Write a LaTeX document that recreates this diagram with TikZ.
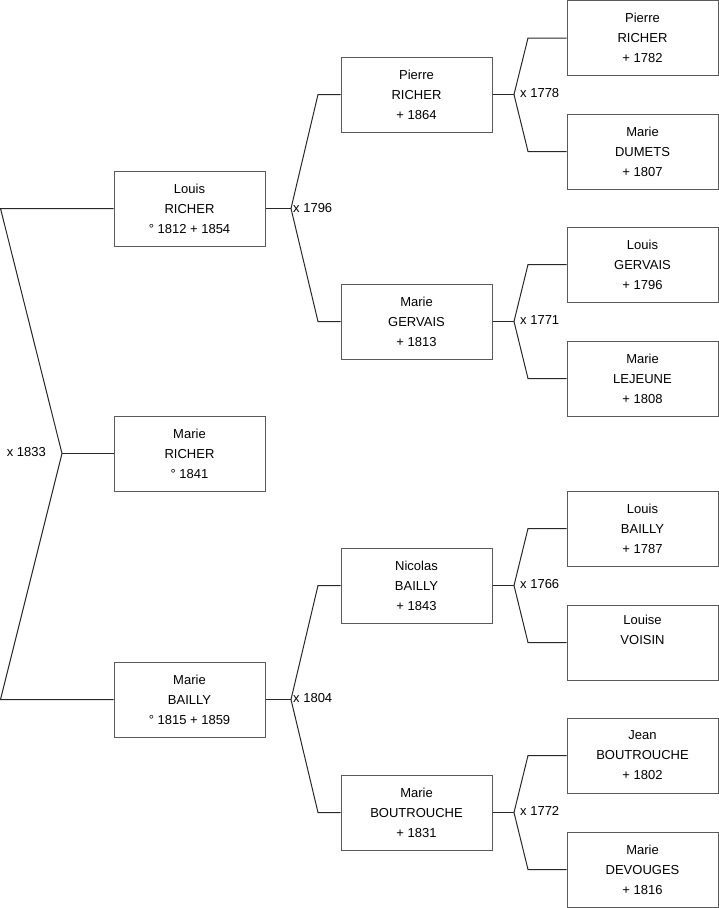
\documentclass[tikz,border=0pt]{standalone}
\usepackage{fontspec}
\setmainfont{Liberation Sans}
\definecolor{boxgray}{RGB}{90,90,90}
\definecolor{linecol}{RGB}{40,40,40}
\begin{document}
\begin{tikzpicture}[x=1pt,y=-1pt,
  person/.style={draw=boxgray,line width=1pt,fill=white,minimum width=151pt,minimum height=75pt,inner sep=0pt,align=center,font=\fontsize{13}{20}\selectfont},
  link/.style={draw=linecol,line width=1pt},
  marr/.style={inner sep=0pt,font=\fontsize{13}{16}\selectfont}]
\useasboundingbox (0,0) rectangle (719,908);
% generation 1
\node[person] (louis) at (189.5,208.5) {Louis\\RICHER\\° 1812 + 1854};
\node[person] (marie) at (189.5,453.5) {Marie\\RICHER\\° 1841};
\node[person] (mbailly) at (189.5,699.5) {Marie\\BAILLY\\° 1815 + 1859};
% generation 2
\node[person] (pierre) at (416.5,94.5) {Pierre\\RICHER\\+ 1864};
\node[person] (gervais) at (416.5,321.5) {Marie\\GERVAIS\\+ 1813};
\node[person] (nicolas) at (416.5,585.5) {Nicolas\\BAILLY\\+ 1843};
\node[person] (boutr) at (416.5,812.5) {Marie\\BOUTROUCHE\\+ 1831};
% generation 3
\node[person] (p3a) at (642.5,38) {Pierre\\RICHER\\+ 1782};
\node[person] (p3b) at (642.5,151.5) {Marie\\DUMETS\\+ 1807};
\node[person] (p3c) at (642.5,264.5) {Louis\\GERVAIS\\+ 1796};
\node[person] (p3d) at (642.5,378.5) {Marie\\LEJEUNE\\+ 1808};
\node[person] (p3e) at (642.5,528.5) {Louis\\BAILLY\\+ 1787};
\node[person] (p3f) at (642.5,642.5) {Louise\\VOISIN\\\strut};
\node[person] (p3g) at (642.5,755.5) {Jean\\BOUTROUCHE\\+ 1802};
\node[person] (p3h) at (642.5,869.5) {Marie\\DEVOUGES\\+ 1816};
% junction points
\coordinate (j0) at (62,453.5);
\coordinate (j1) at (291,208.5);
\coordinate (j2) at (291,699.5);
\coordinate (j3) at (514,94.5);
\coordinate (j4) at (514,321.5);
\coordinate (j5) at (514,585.5);
\coordinate (j6) at (514,812.5);
% elbows
\coordinate (e1a) at (0.5,208.5);
\coordinate (e1c) at (0.5,699.5);
\coordinate (e2a) at (318,94.5);
\coordinate (e2b) at (318,321.5);
\coordinate (e2c) at (318,585.5);
\coordinate (e2d) at (318,812.5);
\coordinate (e3a) at (528,38);
\coordinate (e3b) at (528,151.5);
\coordinate (e3c) at (528,264.5);
\coordinate (e3d) at (528,378.5);
\coordinate (e3e) at (528,528.5);
\coordinate (e3f) at (528,642.5);
\coordinate (e3g) at (528,755.5);
\coordinate (e3h) at (528,869.5);
% connectors
\draw[link] (louis.west) -- (e1a) -- (j0) -- (e1c) -- (mbailly.west);
\draw[link] (j0) -- (marie.west);
\draw[link] (louis.east) -- (j1);
\draw[link] (pierre.west) -- (e2a) -- (j1) -- (e2b) -- (gervais.west);
\draw[link] (mbailly.east) -- (j2);
\draw[link] (nicolas.west) -- (e2c) -- (j2) -- (e2d) -- (boutr.west);
\draw[link] (pierre.east) -- (j3);
\draw[link] (p3a.west) -- (e3a) -- (j3) -- (e3b) -- (p3b.west);
\draw[link] (gervais.east) -- (j4);
\draw[link] (p3c.west) -- (e3c) -- (j4) -- (e3d) -- (p3d.west);
\draw[link] (nicolas.east) -- (j5);
\draw[link] (p3e.west) -- (e3e) -- (j5) -- (e3f) -- (p3f.west);
\draw[link] (boutr.east) -- (j6);
\draw[link] (p3g.west) -- (e3g) -- (j6) -- (e3h) -- (p3h.west);
% marriage labels
\node[marr,anchor=east] (m0) at (46,452) {x 1833};
\node[marr,anchor=west] (m1) at (293,208) {x 1796};
\node[marr,anchor=west] (m2) at (293,698) {x 1804};
\node[marr,anchor=west] (m3) at (520,93) {x 1778};
\node[marr,anchor=west] (m4) at (520,320) {x 1771};
\node[marr,anchor=west] (m5) at (520,584) {x 1766};
\node[marr,anchor=west] (m6) at (520,811) {x 1772};
\end{tikzpicture}
\end{document}
